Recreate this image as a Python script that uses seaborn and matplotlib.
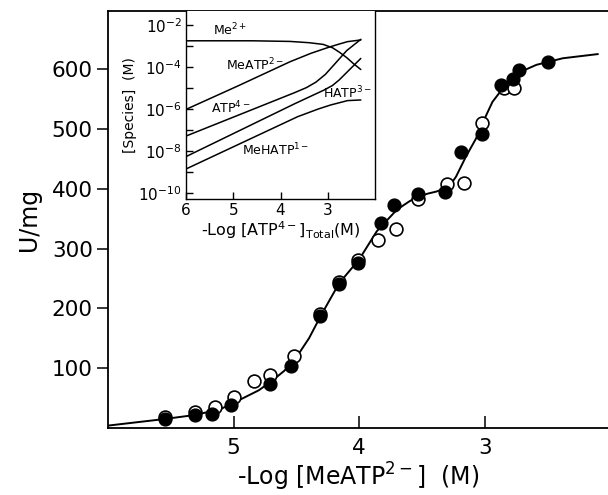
import matplotlib
matplotlib.use("Agg")
import matplotlib.pyplot as plt
import numpy as np
import pandas as pd
import seaborn as sns

# main panel: activity vs -log[MeATP2-]
filled_x = [5.55, 5.31, 5.17, 5.02, 4.71, 4.54, 4.31, 4.16, 4.01, 3.83, 3.72, 3.53,
            3.32, 3.19, 3.02, 2.87, 2.78, 2.73, 2.50]
filled_y = [15, 22, 23, 38, 74, 103, 187, 240, 275, 342, 372, 391,
            395, 462, 491, 574, 583, 599, 611]

open_x = [5.55, 5.31, 5.15, 5.00, 4.84, 4.71, 4.52, 4.31, 4.16, 4.01, 3.85, 3.71,
          3.53, 3.30, 3.17, 3.02, 2.85, 2.77]
open_y = [18, 26, 35, 52, 78, 89, 120, 191, 244, 280, 315, 332,
          383, 408, 410, 510, 568, 569]

fit_x = [6.0, 5.55, 5.3, 5.1, 5.0, 4.8, 4.7, 4.6, 4.52, 4.4, 4.3, 4.16, 4.0, 3.86,
         3.7, 3.6, 3.53, 3.45, 3.39, 3.32, 3.27, 3.23, 3.15, 3.07, 3.02, 2.94,
         2.86, 2.79, 2.72, 2.59, 2.38, 2.10]
fit_y = [4, 15, 22, 32, 42, 63, 78, 95, 112, 150, 190, 242, 282, 329,
         365, 379, 387, 392, 395, 400, 408, 420, 454, 484, 509, 545,
         567, 583, 595, 607, 618, 625]

main_xticks = [5, 4, 3]
main_yticks = [100, 200, 300, 400, 500, 600]

# inset: species distribution, log10 of molar conc.
me_x = [6.0, 4.6, 3.8, 3.4, 3.1, 2.9, 2.75, 2.6, 2.45, 2.3]
me_y = [-2.75, -2.75, -2.78, -2.84, -2.92, -3.08, -3.3, -3.55, -3.85, -4.12]
meatp_x = [6.0, 4.9, 3.8, 3.36, 3.1, 2.94, 2.75, 2.58, 2.3]
meatp_y = [-6.02, -4.9, -3.75, -3.35, -3.15, -3.03, -2.9, -2.79, -2.71]
atp_x = [6.0, 3.7, 3.45, 3.25, 3.05, 2.85, 2.6, 2.3]
atp_y = [-7.29, -5.22, -4.98, -4.72, -4.35, -3.85, -3.22, -2.68]
hatp_x = [6.0, 3.7, 3.3, 3.08, 2.9, 2.76, 2.51, 2.3]
hatp_y = [-8.27, -5.75, -5.33, -5.10, -4.88, -4.62, -4.06, -3.59]
mehatp_x = [6.0, 3.64, 3.2, 2.94, 2.58, 2.3]
mehatp_y = [-8.86, -6.37, -6.0, -5.81, -5.60, -5.57]

inset_xticks = [6, 5, 4, 3]
inset_ydecades = [-10, -9, -8, -7, -6, -5, -4, -3, -2]

sns.set_style("ticks", {"axes.edgecolor": "black", "text.color": "black",
                        "xtick.color": "black", "ytick.color": "black",
                        "axes.labelcolor": "black"})
plt.rcParams['font.family'] = ['DejaVu Sans']
plt.rcParams['mathtext.fontset'] = 'dejavusans'

fig = plt.figure(figsize=(6.08, 4.95), dpi=100)
ax = fig.add_axes([108 / 608, 67 / 495, 1 - 108 / 608, 417 / 495])

df_fit = pd.DataFrame({'x': fit_x, 'y': fit_y})
sns.lineplot(data=df_fit, x='x', y='y', sort=False, estimator=None,
             color='black', lw=1.4, ax=ax)

df_open = pd.DataFrame({'x': open_x, 'y': open_y})
sns.scatterplot(data=df_open, x='x', y='y', s=85, color='white',
                edgecolor='black', linewidth=1.2, ax=ax, zorder=3)
df_filled = pd.DataFrame({'x': filled_x, 'y': filled_y})
sns.scatterplot(data=df_filled, x='x', y='y', s=85, color='black',
                edgecolor='black', linewidth=1.0, ax=ax, zorder=4)

ax.set_xlim(6.0, 2.02)
ax.set_ylim(0, 697)
ax.set_xticks(main_xticks)
ax.set_yticks(main_yticks)
ax.tick_params(axis='x', direction='in', length=9, width=1.1, labelsize=15.5, pad=7)
ax.tick_params(axis='y', direction='out', length=8, width=1.1, labelsize=15.5, pad=3)
ax.spines['right'].set_visible(False)
for s in ['left', 'bottom', 'top']:
    ax.spines[s].set_linewidth(1.3)
ax.set_xlabel(r'-Log [MeATP$^{2-}$]  (M)', fontsize=17, labelpad=2)
ax.set_ylabel('U/mg', fontsize=17, labelpad=8)

# inset
ins = fig.add_axes([186 / 608, 296 / 495, 189 / 608, 188 / 495])
species = []
for name, xs, ys in [('Me', me_x, me_y), ('MeATP', meatp_x, meatp_y),
                     ('ATP', atp_x, atp_y), ('HATP', hatp_x, hatp_y),
                     ('MeHATP', mehatp_x, mehatp_y)]:
    species.append(pd.DataFrame({'x': xs, 'conc': [10.0 ** v for v in ys], 'sp': name}))
df_sp = pd.concat(species, ignore_index=True)
sns.lineplot(data=df_sp, x='x', y='conc', hue='sp', units='sp', estimator=None,
             sort=False, palette=['black'] * 5, legend=False, lw=1.1, ax=ins)
ins.set_yscale('log')
ins.set_xlim(6.0, 2.0)
ins.set_ylim(10 ** -10.29, 10 ** -1.33)
ins.set_xticks(inset_xticks)
ins.set_yticks([10.0 ** d for d in inset_ydecades])
ins.set_yticklabels([r'$10^{%d}$' % d if d % 2 == 0 else '' for d in inset_ydecades])
ins.yaxis.set_minor_locator(matplotlib.ticker.NullLocator())
ins.tick_params(axis='both', direction='in', length=5, width=1.0, labelsize=11, pad=3)
ins.spines['top'].set_visible(False)
for s in ['left', 'bottom', 'right']:
    ins.spines[s].set_linewidth(1.0)
ins.set_xlabel(r'-Log [ATP$^{4-}$]$_{\mathrm{Total}}$(M)', fontsize=11.5, labelpad=1)
ins.set_ylabel('[Species]  (M)', fontsize=10, labelpad=1)

lab = dict(fontsize=9, ha='center', va='center')
ins.text(5.06, 10 ** -2.24, r'Me$^{2+}$', **lab)
ins.text(4.53, 10 ** -3.90, r'MeATP$^{2-}$', **lab)
ins.text(5.06, 10 ** -5.95, r'ATP$^{4-}$', **lab)
ins.text(2.58, 10 ** -5.25, r'HATP$^{3-}$', **lab)
ins.text(4.11, 10 ** -7.95, r'MeHATP$^{1-}$', **lab)

fig.savefig('out.png', dpi=100)
